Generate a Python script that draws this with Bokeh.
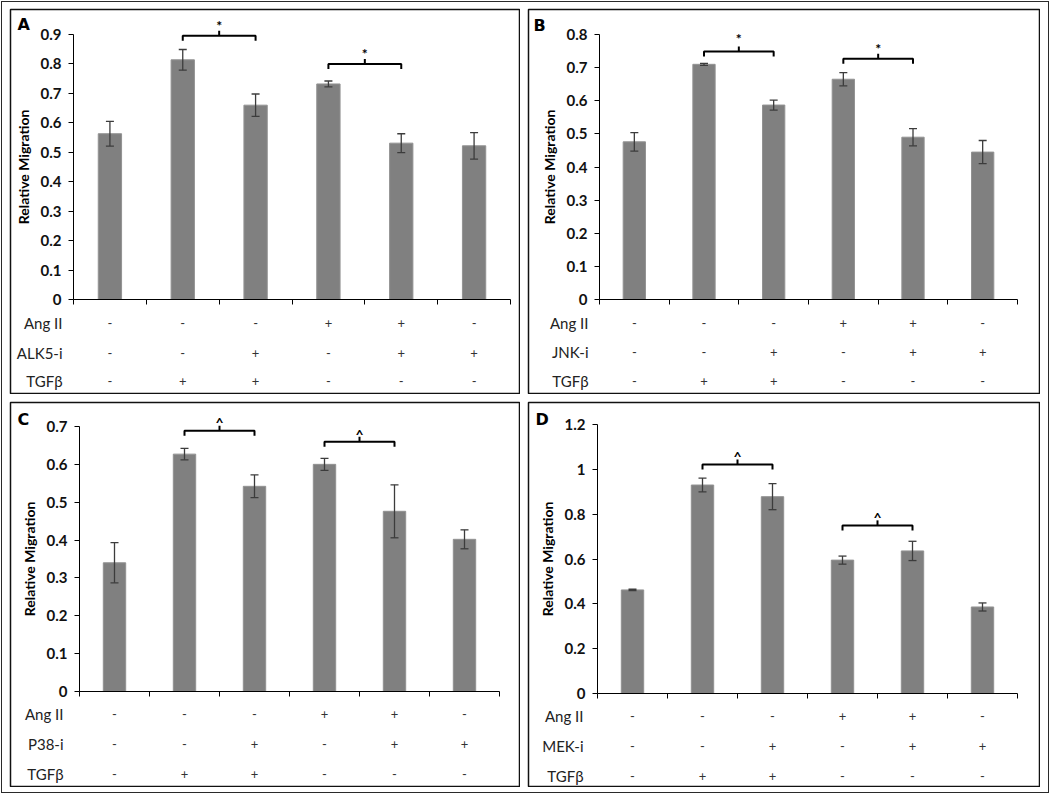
from bokeh.plotting import figure
from bokeh.layouts import row, column, Spacer
from bokeh.models import (ColumnDataSource, Whisker, TeeHead, FixedTicker,
                          CustomJSTickFormatter, Range1d)
from bokeh.core.properties import value
from bokeh.embed import file_html
from bokeh.resources import INLINE

# ---------------- data ----------------
panel_letters = ["A", "B", "C", "D"]
inhibitors = ["ALK5-i", "JNK-i", "P38-i", "MEK-i"]
row_first = "Ang II"
row_last = "TGFβ"
ang_ii = ["-", "-", "-", "+", "+", "-"]
inhib = ["-", "-", "+", "-", "+", "+"]
tgfb = ["-", "+", "+", "-", "-", "-"]

a_mean = [0.563, 0.814, 0.660, 0.732, 0.531, 0.522]
a_err = [0.042, 0.035, 0.038, 0.010, 0.032, 0.045]
b_mean = [0.476, 0.710, 0.587, 0.665, 0.490, 0.445]
b_err = [0.028, 0.003, 0.015, 0.020, 0.026, 0.035]
c_mean = [0.340, 0.627, 0.542, 0.600, 0.476, 0.402]
c_err = [0.053, 0.015, 0.030, 0.016, 0.070, 0.025]
d_mean = [0.462, 0.930, 0.878, 0.595, 0.636, 0.386]
d_err = [0.003, 0.031, 0.058, 0.018, 0.043, 0.018]

a_ticks = [0, 0.1, 0.2, 0.3, 0.4, 0.5, 0.6, 0.7, 0.8, 0.9]
a_tick_labels = ["0", "0.1", "0.2", "0.3", "0.4", "0.5", "0.6", "0.7", "0.8", "0.9"]
b_ticks = [0, 0.1, 0.2, 0.3, 0.4, 0.5, 0.6, 0.7, 0.8]
b_tick_labels = ["0", "0.1", "0.2", "0.3", "0.4", "0.5", "0.6", "0.7", "0.8"]
c_ticks = [0, 0.1, 0.2, 0.3, 0.4, 0.5, 0.6, 0.7]
c_tick_labels = ["0", "0.1", "0.2", "0.3", "0.4", "0.5", "0.6", "0.7"]
d_ticks = [0, 0.2, 0.4, 0.6, 0.8, 1.0, 1.2]
d_tick_labels = ["0", "0.2", "0.4", "0.6", "0.8", "1", "1.2"]

# significance brackets: (left bar, right bar, bracket level, mark centre)
a_brackets = [(1, 2, 0.896, 0.941), (3, 4, 0.800, 0.846)]
b_brackets = [(1, 2, 0.749, 0.797), (3, 4, 0.727, 0.767)]
c_brackets = [(1, 2, 0.689, 0.718), (3, 4, 0.660, 0.688)]
d_brackets = [(1, 2, 1.022, 1.071), (3, 4, 0.750, 0.798)]
a_mark, b_mark, c_mark, d_mark = "*", "*", "^", "^"

# ---------------- layout geometry (absolute page pixels) ----------------
geo_a = dict(canvas=(9, 8, 511, 386), ax=73, xe=510, zy=299, ty=34,
             rows=(322, 352, 380), lab_right=62, letter=(17, 17))
geo_b = dict(canvas=(527, 8, 513, 386), ax=599, xe=1017, zy=299, ty=34,
             rows=(322, 351, 380), lab_right=588, letter=(533, 18))
geo_c = dict(canvas=(9, 401, 511, 386), ax=79, xe=499, zy=691, ty=426,
             rows=(713, 743, 773), lab_right=63, letter=(17, 412))
geo_d = dict(canvas=(527, 401, 513, 386), ax=597, xe=1017, zy=693, ty=424,
             rows=(715, 745, 775), lab_right=583, letter=(535, 412))

FONT = "Lato"
BAR = "#808080"
ERR = "#3c3c3c"
FRAME = "#2a2a2a"


def make_panel(letter, inhib_name, means, errs, ticks, tick_labels, brackets, mark, geo):
    cx, cy, W, H = geo["canvas"]
    fx0, fy0, fx1, fy1 = cx + 1, cy + 1, cx + W - 1, cy + H - 1
    n = len(means)
    ytop = ticks[-1]
    ax, zy = geo["ax"], geo["zy"]
    xppu = (geo["xe"] - ax) / n
    yppu = (zy - geo["ty"]) / ytop

    def X(px):  # absolute page x -> data x
        return (px - ax) / xppu

    def Y(py):  # absolute page y -> data y
        return (zy - py) / yppu

    p = figure(width=W, height=H, x_range=Range1d(X(fx0), X(fx1)),
               y_range=Range1d(Y(fy1), Y(fy0)),
               output_backend="svg", toolbar_location=None, tools="",
               min_border=1, min_border_left=1, min_border_right=1,
               min_border_top=1, min_border_bottom=1)
    p.xgrid.visible = False
    p.ygrid.visible = False
    p.outline_line_color = "#111111"
    p.outline_line_width = 1.5
    p.background_fill_color = "white"
    p.border_fill_color = "white"

    xs = [i + 0.5 for i in range(n)]
    src = ColumnDataSource(dict(x=xs, top=means,
                                upper=[m + e for m, e in zip(means, errs)],
                                lower=[m - e for m, e in zip(means, errs)]))
    p.vbar(x="x", top="top", bottom=0, width=0.32, source=src, fill_color=BAR,
           line_color="#929292", line_width=1)
    w = Whisker(source=src, base="x", upper="upper", lower="lower", dimension="height",
                line_color=ERR, line_width=1.3, level="annotation",
                upper_head=TeeHead(size=8, line_color=ERR, line_width=1.3),
                lower_head=TeeHead(size=8, line_color=ERR, line_width=1.3))
    p.add_layout(w)

    # axes, fixed at the data origin
    yax = p.yaxis[0]
    yax.fixed_location = 0
    yax.ticker = FixedTicker(ticks=ticks)
    yax.major_label_overrides = {t: s for t, s in zip(ticks, tick_labels)}
    yax.bounds = (0, ytop)
    yax.minor_tick_line_color = None
    yax.major_tick_in = 0
    yax.major_tick_out = 5
    yax.axis_line_color = "black"
    yax.major_tick_line_color = "black"
    yax.major_label_standoff = 7
    yax.major_label_text_font = FONT
    yax.major_label_text_font_style = "bold"
    yax.major_label_text_font_size = "15px"
    yax.major_label_text_color = "#111111"
    yax.axis_label = "Relative Migration"
    yax.axis_label_text_font = FONT
    yax.axis_label_text_font_style = "bold"
    yax.axis_label_text_font_size = "14px"
    yax.axis_label_text_color = "black"
    yax.axis_label_standoff = 6

    xax = p.xaxis[0]
    xax.fixed_location = 0
    xax.ticker = FixedTicker(ticks=list(range(n + 1)))
    xax.formatter = CustomJSTickFormatter(code="return ''")
    xax.bounds = (0, n)
    xax.minor_tick_line_color = None
    xax.major_tick_in = 0
    xax.major_tick_out = 5
    xax.axis_line_color = "black"
    xax.major_tick_line_color = "black"

    # brackets
    drop = 5 / yppu
    bxs, bys = [], []
    mx, my_ = [], []
    for l, r, lvl, my in brackets:
        xl, xr = xs[l], xs[r]
        xm = (xl + xr) / 2
        bxs.append([xl, xl, xr, xr])
        bys.append([lvl - drop, lvl, lvl, lvl - drop])
        bxs.append([xm, xm])
        bys.append([lvl, lvl + drop])
        mx.append(xm)
        my_.append(my)
    p.multi_line(bxs, bys, line_color="black", line_width=2)
    p.text(x=mx, y=my_, text=[mark] * len(mx), text_align="center",
           text_baseline="middle", y_offset=3, text_font=value(FONT),
           text_font_style="bold", text_font_size="14px", text_color="black")

    # treatment table below the axis
    names = [row_first, inhib_name, row_last]
    signs = [ang_ii, inhib, tgfb]
    row_y = [Y(r) for r in geo["rows"]]
    p.text(x=[X(geo["lab_right"])] * 3, y=row_y, text=names, text_align="right",
           text_baseline="middle", text_font=value(FONT), text_font_size="15px",
           text_color="#222222")
    sx, sy, st = [], [], []
    for r in range(3):
        for i in range(n):
            sx.append(xs[i])
            sy.append(row_y[r])
            st.append(signs[r][i])
    p.text(x=sx, y=sy, text=st, text_align="center", text_baseline="middle",
           text_font=value(FONT), text_font_size="13px", text_color="#333333")

    # panel letter
    lx, ly = geo["letter"]
    p.text(x=[X(lx)], y=[Y(ly - 3)], text=[letter], text_align="left",
           text_baseline="top", text_font=value("DejaVu Sans"),
           text_font_style="bold", text_font_size="16px", text_color="black")
    return p


pA = make_panel(panel_letters[0], inhibitors[0], a_mean, a_err, a_ticks, a_tick_labels,
                a_brackets, a_mark, geo_a)
pB = make_panel(panel_letters[1], inhibitors[1], b_mean, b_err, b_ticks, b_tick_labels,
                b_brackets, b_mark, geo_b)
pC = make_panel(panel_letters[2], inhibitors[2], c_mean, c_err, c_ticks, c_tick_labels,
                c_brackets, c_mark, geo_c)
pD = make_panel(panel_letters[3], inhibitors[3], d_mean, d_err, d_ticks, d_tick_labels,
                d_brackets, d_mark, geo_d)

# inner area starts at page (2, 2); panels placed at their absolute positions
inner = column(
    Spacer(width=1046, height=6),
    row(Spacer(width=7, height=386), pA, Spacer(width=7, height=386), pB,
        Spacer(width=8, height=386)),
    Spacer(width=1046, height=7),
    row(Spacer(width=7, height=386), pC, Spacer(width=7, height=386), pD,
        Spacer(width=8, height=386)),
    Spacer(width=1046, height=5),
)

layout = column(
    Spacer(width=1, height=1),
    row(
        Spacer(width=1, height=1),
        column(
            Spacer(width=1048, height=1, background=FRAME),
            row(Spacer(width=1, height=790, background=FRAME), inner,
                Spacer(width=1, height=790, background=FRAME)),
            Spacer(width=1048, height=1, background=FRAME),
        ),
    ),
)
open("out.html", "w").write(file_html(layout, INLINE))
